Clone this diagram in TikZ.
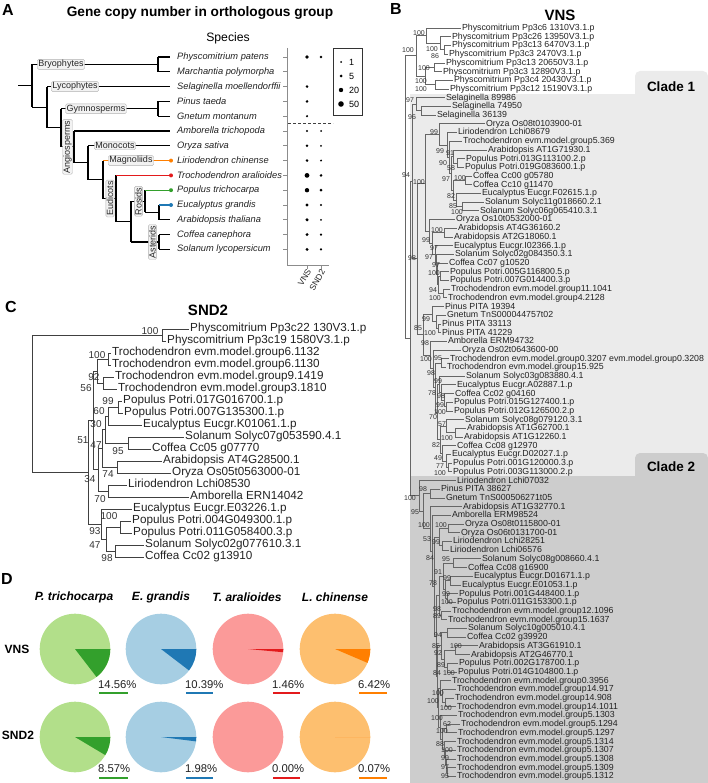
\documentclass[tikz,border=0pt]{standalone}
\usepackage{fontspec}
\setmainfont{Liberation Sans}
\usetikzlibrary{calc}
\newcommand{\myfs}[1]{\fontsize{#1}{#1}\selectfont}
\definecolor{pgL}{HTML}{B2DF8A}\definecolor{pgD}{HTML}{33A02C}
\definecolor{pbL}{HTML}{A6CEE3}\definecolor{pbD}{HTML}{1F78B4}
\definecolor{prL}{HTML}{FB9A99}\definecolor{prD}{HTML}{E31A1C}
\definecolor{poL}{HTML}{FDBF6F}\definecolor{poD}{HTML}{FF7F00}
\definecolor{cladeA}{HTML}{EBEBEB}\definecolor{cladeB}{HTML}{CDCDCD}
\definecolor{txt}{HTML}{222222}
\newcommand{\tjoin}[5]{\path let \p1=(#4), \p2=(#5) in (#3pt,{0.5*\y1+0.5*\y2}) coordinate (#2);\draw[#1] (#2) |- (#4);\draw[#1] (#2) |- (#5);}
\newcommand{\Bleaf}[3]{\node[blf] (b#1) at (#2,{28+(#1-1)*8.7}) {#3};}
\newcommand{\Cleaf}[3]{\node[clf] (c#1) at (#2,{329+(#1-1)*12}) {#3};}
\newcommand{\Blab}[3]{\node[bbs] (bl#1x#2) at (#1,#2) {#3};}
\newcommand{\Clab}[3]{\node[cbs] (cl#1x#2) at (#1,#2) {#3};}
\newcommand{\mypie}[6]{\fill[#4] (#2,#3) circle (35.3);\ifdim #6pt>0pt\fill[#5] (#2,#3) -- ++(0:35.3) arc[start angle=0,end angle=#6,radius=35.3] -- cycle;\fi\coordinate (#1) at (#2,#3);}
\begin{document}
\begin{tikzpicture}[x=1pt,y=-1pt,
 ta/.style={line width=1.2pt,black},
 albl/.style={draw=black!30,fill=black!5,rounded corners=1.5pt,inner xsep=1.2pt,inner ysep=0.8pt,font=\myfs{9},text=black!85},
 spec/.style={anchor=west,inner sep=0pt,font=\itshape\myfs{9.3},text=txt},
 dotp/.style={circle,fill=black,inner sep=0pt},
 axg/.style={draw=black!45,line width=0.9pt},
 blf/.style={anchor=west,inner xsep=0.8pt,inner ysep=0pt,text height=0.72em,text depth=0.2em,font=\myfs{8.8},text=txt},
 bbs/.style={font=\myfs{7},inner sep=0pt,text=black!80},
 brl/.style={draw=black!60,line width=0.5pt},
 clf/.style={anchor=west,inner xsep=1pt,inner ysep=0pt,text height=0.72em,text depth=0.2em,font=\myfs{11.7},text=txt},
 cbs/.style={font=\myfs{10},inner sep=0pt,text=black!80},
 crl/.style={draw=black!75,line width=0.6pt},
 plbl/.style={font=\bfseries\myfs{16}},
 ttl/.style={font=\bfseries\myfs{15}},
 pct/.style={anchor=west,inner sep=0pt,font=\myfs{11.3},text=txt}]
\useasboundingbox (0,0) rectangle (708,783);

% ================= Panel A =================
\node[plbl] (lblA) at (8,10) {A};
\node[font=\bfseries\myfs{13.7}] (titA) at (200,13) {Gene copy number in orthologous group};
\node[font=\myfs{12.2}] (spA) at (228,38) {Species};
\coordinate (t1) at (170,57);\coordinate (t2) at (170,71.8);\coordinate (t3) at (170,86.6);
\coordinate (t4) at (170,101.4);\coordinate (t5) at (170,116.2);\coordinate (t6) at (170,131);
\coordinate (t7) at (170,145.8);\coordinate (t8) at (170,160.6);\coordinate (t9) at (170,175.4);
\coordinate (t10) at (170,190.2);\coordinate (t11) at (170,205);\coordinate (t12) at (170,219.8);
\coordinate (t13) at (170,234.6);\coordinate (t14) at (170,249.4);
\coordinate (nBr) at (158,64.4);\coordinate (nGy) at (158,108.8);\coordinate (nAs) at (159,242);
\coordinate (nEA) at (159,212.4);\coordinate (nRo) at (145,201.3);\coordinate (nRA) at (131,221.65);
\coordinate (nEu) at (116,198.53);\coordinate (nME) at (103,179.56);\coordinate (nMM) at (88,162.68);
\coordinate (nAn) at (74,146.84);\coordinate (nSe) at (61,127.82);\coordinate (nTr) at (47,107.21);
\coordinate (nRt) at (32,85.8);\coordinate (nSt) at (18,85.8);
% verticals
\draw[ta] (nBr |- t1) -- (nBr |- t2);
\draw[ta] (nGy |- t4) -- (nGy |- t5);
\draw[ta] (nAs |- t13) -- (nAs |- t14);
\draw[ta] (nEA |- t11) -- (nEA |- t12);
\draw[ta] (nRo |- t10) -- (nRo |- nEA);
\draw[ta] (nRA |- nRo) -- (nRA |- nAs);
\draw[ta] (nEu |- t9) -- (nEu |- nRA);
\draw[ta] (nME |- t8) -- (nME |- nEu);
\draw[ta] (nMM |- t7) -- (nMM |- nME);
\draw[ta] (nAn |- t6) -- (nAn |- nMM);
\draw[ta] (nSe |- nGy) -- (nSe |- nAn);
\draw[ta] (nTr |- t3) -- (nTr |- nSe);
\draw[ta] (nRt |- nBr) -- (nRt |- nTr);
% horizontals
\draw[ta] (nSt) -- (nRt);
\draw[ta] (nRt |- nBr) -- (nBr);
\draw[ta] (nBr |- t1) -- (t1);\draw[ta] (nBr |- t2) -- (t2);
\draw[ta] (nRt |- nTr) -- (nTr);
\draw[ta] (nTr |- t3) -- (t3);
\draw[ta] (nTr |- nSe) -- (nSe);
\draw[ta] (nSe |- nGy) -- (nGy);
\draw[ta] (nGy |- t4) -- (t4);\draw[ta] (nGy |- t5) -- (t5);
\draw[ta] (nSe |- nAn) -- (nAn);
\draw[ta] (nAn |- t6) -- (t6);
\draw[ta] (nAn |- nMM) -- (nMM);
\draw[ta] (nMM |- t7) -- (t7);
\draw[ta] (nMM |- nME) -- (nME);
\draw[ta,poD] (nME |- t8) -- (t8);
\draw[ta] (nME |- nEu) -- (nEu);
\draw[ta,prD] (nEu |- t9) -- (t9);
\draw[ta] (nEu |- nRA) -- (nRA);
\draw[ta] (nRA |- nRo) -- (nRo);
\draw[ta,pgD] (nRo |- t10) -- (t10);
\draw[ta] (nRo |- nEA) -- (nEA);
\draw[ta,pbD] (nEA |- t11) -- (t11);
\draw[ta] (nEA |- t12) -- (t12);
\draw[ta] (nRA |- nAs) -- (nAs);
\draw[ta] (nAs |- t13) -- (t13);\draw[ta] (nAs |- t14) -- (t14);
% colored tips
\node[dotp,fill=poD,minimum size=4pt] (dt8) at (171,160.6) {};
\node[dotp,fill=prD,minimum size=4pt] (dt9) at (171,175.4) {};
\node[dotp,fill=pgD,minimum size=4pt] (dt10) at (171,190.2) {};
\node[dotp,fill=pbD,minimum size=4pt] (dt11) at (171,205) {};
% clade labels
\node[albl] (gBr) at (61,64.4) {Bryophytes};
\node[albl] (gLy) at (75,86.6) {Lycophytes};
\node[albl] (gGy) at (96,108.8) {Gymnosperms};
\node[albl,rotate=90] (gAn) at (67.5,146.84) {Angiosperms};
\node[albl] (gMo) at (115,145.8) {Monocots};
\node[albl] (gMa) at (131,160.6) {Magnoliids};
\node[albl,rotate=90] (gEu) at (110,198.53) {Eudicots};
\node[albl,rotate=90] (gRo) at (138.5,201.3) {Rosids};
\node[albl,rotate=90] (gAs) at (152.5,242) {Asterids};
% species
\node[spec] (s1) at (177,57) {Physcomitrium patens};
\node[spec] (s2) at (177,71.8) {Marchantia polymorpha};
\node[spec] (s3) at (177,86.6) {Selaginella moellendorffii};
\node[spec] (s4) at (177,101.4) {Pinus taeda};
\node[spec] (s5) at (177,116.2) {Gnetum montanum};
\node[spec] (s6) at (177,131) {Amborella trichopoda};
\node[spec] (s7) at (177,145.8) {Oryza sativa};
\node[spec] (s8) at (177,160.6) {Liriodendron chinense};
\node[spec] (s9) at (177,175.4) {Trochodendron aralioides};
\node[spec] (s10) at (177,190.2) {Populus trichocarpa};
\node[spec] (s11) at (177,205) {Eucalyptus grandis};
\node[spec] (s12) at (177,219.8) {Arabidopsis thaliana};
\node[spec] (s13) at (177,234.6) {Coffea canephora};
\node[spec] (s14) at (177,249.4) {Solanum lycopersicum};
% dot plot axes
\draw[axg] (287,48) -- (287,265) -- (329,265);
\foreach \yy in {57,71.8,86.6,101.4,116.2,131,145.8,160.6,175.4,190.2,205,219.8,234.6,249.4}{\draw[axg] (283,\yy) -- (287,\yy);}
\draw[axg] (307,265) -- (307,268.5);
\draw[axg] (321,265) -- (321,268.5);
\node[rotate=60,anchor=east,font=\myfs{8.5},inner sep=0pt,text=txt] (xV) at (309,270) {VNS};
\node[rotate=60,anchor=east,font=\myfs{8.5},inner sep=0pt,text=txt] (xS) at (323,270) {SND2};
\draw[black!75,line width=0.8pt,dash pattern=on 3pt off 2pt] (288,123.6) -- (333,123.6);
% dots VNS (x=307) and SND2 (x=321)
\node[dotp,minimum size=3.6pt] (v1) at (307,57) {};\node[dotp,minimum size=2.6pt] (w1) at (321,57) {};
\node[dotp,minimum size=2.8pt] (v3) at (307,86.6) {};
\node[dotp,minimum size=2.8pt] (v4) at (307,101.4) {};
\node[dotp,minimum size=2.4pt] (v5) at (307,116.2) {};
\node[dotp,minimum size=2.4pt] (v6) at (307,131) {};\node[dotp,minimum size=2pt] (w6) at (321,131) {};
\node[dotp,minimum size=2.8pt] (v7) at (307,145.8) {};\node[dotp,minimum size=2pt] (w7) at (321,145.8) {};
\node[dotp,minimum size=2.8pt] (v8) at (307,160.6) {};\node[dotp,minimum size=2.2pt] (w8) at (321,160.6) {};
\node[dotp,minimum size=4.8pt] (v9) at (307,175.4) {};\node[dotp,minimum size=2.8pt] (w9) at (321,175.4) {};
\node[dotp,minimum size=4.4pt] (v10) at (307,190.2) {};\node[dotp,minimum size=3pt] (w10) at (321,190.2) {};
\node[dotp,minimum size=3.2pt] (v11) at (307,205) {};\node[dotp,minimum size=2.4pt] (w11) at (321,205) {};
\node[dotp,minimum size=3.4pt] (v12) at (307,219.8) {};\node[dotp,minimum size=2pt] (w12) at (321,219.8) {};
\node[dotp,minimum size=3.2pt] (v13) at (307,234.6) {};\node[dotp,minimum size=2.4pt] (w13) at (321,234.6) {};
\node[dotp,minimum size=3.2pt] (v14) at (307,249.4) {};\node[dotp,minimum size=2.4pt] (w14) at (321,249.4) {};
% legend
\draw[black!80,line width=0.7pt,fill=white] (333,48) rectangle (362,115);
\node[dotp,minimum size=2pt] (lg1) at (341,62) {};\node[anchor=west,font=\myfs{9},inner sep=0pt] (lt1) at (349,62) {1};
\node[dotp,minimum size=3pt] (lg2) at (341,76) {};\node[anchor=west,font=\myfs{9},inner sep=0pt] (lt2) at (349,76) {5};
\node[dotp,minimum size=4.4pt] (lg3) at (341,90) {};\node[anchor=west,font=\myfs{9},inner sep=0pt] (lt3) at (349,90) {20};
\node[dotp,minimum size=5.6pt] (lg4) at (341,104) {};\node[anchor=west,font=\myfs{9},inner sep=0pt] (lt4) at (349,104) {50};

% ================= Panel B =================
\fill[cladeA] (410,94) rectangle (708,476);
\fill[cladeA,rounded corners=5pt] (635,100) -- (635,71) -- (708,71) -- (708,100) -- cycle;
\fill[cladeA] (635,85) rectangle (708,100);
\fill[cladeB] (410,476) rectangle (708,783);
\fill[cladeB,rounded corners=5pt] (635,482) -- (635,453) -- (708,453) -- (708,482) -- cycle;
\fill[cladeB] (635,470) rectangle (708,482);
\node[font=\bfseries\myfs{13.5}] (cl1) at (671,87) {Clade 1};
\node[font=\bfseries\myfs{13.5}] (cl2) at (671,467) {Clade 2};
\node[plbl] (lblB) at (396,9) {B};
\node[ttl] (titB) at (560,15) {VNS};
\Bleaf{1}{461}{Physcomitrium Pp3c6 1310V3.1.p}
\Bleaf{2}{451}{Physcomitrium Pp3c26 13950V3.1.p}
\Bleaf{3}{451}{Physcomitrium Pp3c13 6470V3.1.p}
\Bleaf{4}{448}{Physcomitrium Pp3c3 2470V3.1.p}
\Bleaf{5}{445}{Physcomitrium Pp3c13 20650V3.1.p}
\Bleaf{6}{442}{Physcomitrium Pp3c3 12890V3.1.p}
\Bleaf{7}{453}{Physcomitrium Pp3c4 20430V3.1.p}
\Bleaf{8}{449}{Physcomitrium Pp3c12 15190V3.1.p}
\Bleaf{9}{445}{Selaginella 89986}
\Bleaf{10}{451}{Selaginella 74950}
\Bleaf{11}{436}{Selaginella 36139}
\Bleaf{12}{485}{Oryza Os08t0103900-01}
\Bleaf{13}{457}{Liriodendron Lchi08679}
\Bleaf{14}{462}{Trochodendron evm.model.group5.369}
\Bleaf{15}{487}{Arabidopsis AT1G71930.1}
\Bleaf{16}{465}{Populus Potri.013G113100.2.p}
\Bleaf{17}{464}{Populus Potri.019G083600.1.p}
\Bleaf{18}{472}{Coffea Cc00 g05780}
\Bleaf{19}{472}{Coffea Cc10 g11470}
\Bleaf{20}{481}{Eucalyptus Eucgr.F02615.1.p}
\Bleaf{21}{484}{Solanum Solyc11g018660.2.1}
\Bleaf{22}{479}{Solanum Solyc06g065410.3.1}
\Bleaf{23}{455}{Oryza Os10t0532000-01}
\Bleaf{24}{457}{Arabidopsis AT4G36160.2}
\Bleaf{25}{453}{Arabidopsis AT2G18060.1}
\Bleaf{26}{453}{Eucalyptus Eucgr.I02366.1.p}
\Bleaf{27}{454}{Solanum Solyc02g084350.3.1}
\Bleaf{28}{448}{Coffea Cc07 g10520}
\Bleaf{29}{449}{Populus Potri.005G116800.5.p}
\Bleaf{30}{449}{Populus Potri.007G014400.3.p}
\Bleaf{31}{450}{Trochodendron evm.model.group11.1041}
\Bleaf{32}{447}{Trochodendron evm.model.group4.2128}
\Bleaf{33}{444}{Pinus PITA 19394}
\Bleaf{34}{446}{Gnetum TnS000044757t02}
\Bleaf{35}{441}{Pinus PITA 33113}
\Bleaf{36}{441}{Pinus PITA 41229}
\Bleaf{37}{447}{Amborella ERM94732}
\Bleaf{38}{461}{Oryza Os02t0643600-00}
\Bleaf{39}{449}{Trochodendron evm.model.group0.3207 evm.model.group0.3208}
\Bleaf{40}{446}{Trochodendron evm.model.group15.925}
\Bleaf{41}{465}{Solanum Solyc03g083880.4.1}
\Bleaf{42}{456}{Eucalyptus Eucgr.A02887.1.p}
\Bleaf{43}{454}{Coffea Cc02 g04160}
\Bleaf{44}{453}{Populus Potri.015G127400.1.p}
\Bleaf{45}{453}{Populus Potri.012G126500.2.p}
\Bleaf{46}{464}{Solanum Solyc08g079120.3.1}
\Bleaf{47}{466}{Arabidopsis AT1G62700.1}
\Bleaf{48}{463}{Arabidopsis AT1G12260.1}
\Bleaf{49}{456}{Coffea Cc08 g12970}
\Bleaf{50}{451}{Eucalyptus Eucgr.D02027.1.p}
\Bleaf{51}{452}{Populus Potri.001G120000.3.p}
\Bleaf{52}{452}{Populus Potri.003G113000.2.p}
\Bleaf{53}{456}{Liriodendron Lchi07032}
\Bleaf{54}{440}{Pinus PITA 38627}
\Bleaf{55}{445}{Gnetum TnS000506271t05}
\Bleaf{56}{462}{Arabidopsis AT1G32770.1}
\Bleaf{57}{451}{Amborella ERM98524}
\Bleaf{58}{464}{Oryza Os08t0115800-01}
\Bleaf{59}{460}{Oryza Os06t0131700-01}
\Bleaf{60}{452}{Liriodendron Lchi28251}
\Bleaf{61}{449}{Liriodendron Lchi06576}
\Bleaf{62}{481}{Solanum Solyc08g008660.4.1}
\Bleaf{63}{467}{Coffea Cc08 g16900}
\Bleaf{64}{473}{Eucalyptus Eucgr.D01671.1.p}
\Bleaf{65}{461}{Eucalyptus Eucgr.E01053.1.p}
\Bleaf{66}{458}{Populus Potri.001G448400.1.p}
\Bleaf{67}{456}{Populus Potri.011G153300.1.p}
\Bleaf{68}{451}{Trochodendron evm.model.group12.1096}
\Bleaf{69}{447}{Trochodendron evm.model.group15.1637}
\Bleaf{70}{467}{Solanum Solyc10g005010.4.1}
\Bleaf{71}{466}{Coffea Cc02 g39920}
\Bleaf{72}{478}{Arabidopsis AT3G61910.1}
\Bleaf{73}{470}{Arabidopsis AT2G46770.1}
\Bleaf{74}{458}{Populus Potri.002G178700.1.p}
\Bleaf{75}{457}{Populus Potri.014G104800.1.p}
\Bleaf{76}{451}{Trochodendron evm.model.group0.3956}
\Bleaf{77}{456}{Trochodendron evm.model.group14.917}
\Bleaf{78}{454}{Trochodendron evm.model.group14.908}
\Bleaf{79}{456}{Trochodendron evm.model.group14.1011}
\Bleaf{80}{457}{Trochodendron evm.model.group5.1303}
\Bleaf{81}{460}{Trochodendron evm.model.group5.1294}
\Bleaf{82}{457}{Trochodendron evm.model.group5.1297}
\Bleaf{83}{456}{Trochodendron evm.model.group5.1314}
\Bleaf{84}{456}{Trochodendron evm.model.group5.1307}
\Bleaf{85}{456}{Trochodendron evm.model.group5.1308}
\Bleaf{86}{456}{Trochodendron evm.model.group5.1309}
\Bleaf{87}{456}{Trochodendron evm.model.group5.1312}
% B internal nodes
\tjoin{brl}{Bp34}{444}{b3}{b4}
\tjoin{brl}{Bp234}{440}{b2}{Bp34}
\tjoin{brl}{Bp1}{426}{b1}{Bp234}
\tjoin{brl}{Bp56}{434}{b5}{b6}
\tjoin{brl}{Bp78}{435}{b7}{b8}
\tjoin{brl}{Bp58}{425}{Bp56}{Bp78}
\tjoin{brl}{BP}{416}{Bp1}{Bp58}
\tjoin{brl}{Bs2}{421}{b10}{b11}
\tjoin{brl}{Bs}{416}{b9}{Bs2}
\tjoin{brl}{Ba1}{457}{b16}{b17}
\tjoin{brl}{Ba2}{453}{b15}{Ba1}
\tjoin{brl}{Ba3}{465}{b18}{b19}
\tjoin{brl}{Ba4}{462}{b21}{b22}
\tjoin{brl}{Ba5}{456}{b20}{Ba4}
\tjoin{brl}{Ba6}{453}{Ba3}{Ba5}
\tjoin{brl}{Ba7}{451}{Ba2}{Ba6}
\tjoin{brl}{Ba8}{449}{b14}{Ba7}
\tjoin{brl}{Ba9}{447}{b13}{Ba8}
\tjoin{brl}{Ba10}{439}{b12}{Ba9}
\tjoin{brl}{Bb1}{444}{b24}{b25}
\tjoin{brl}{Bb2}{440}{b29}{b30}
\tjoin{brl}{Bb3}{443}{b31}{b32}
\tjoin{brl}{Bb4}{438}{Bb2}{Bb3}
\tjoin{brl}{Bb5}{437}{b28}{Bb4}
\tjoin{brl}{Bb6}{436}{b27}{Bb5}
\tjoin{brl}{Bb7}{435}{b26}{Bb6}
\tjoin{brl}{Bb8}{432}{Bb1}{Bb7}
\tjoin{brl}{Bb9}{429}{b23}{Bb8}
\tjoin{brl}{BA1}{425}{Ba10}{Bb9}
\tjoin{brl}{Bg1}{438}{b35}{b36}
\tjoin{brl}{Bg2}{436}{b34}{Bg1}
\tjoin{brl}{Bg3}{432}{b33}{Bg2}
\tjoin{brl}{Bc1}{446}{b44}{b45}
\tjoin{brl}{Bc2}{444}{b43}{Bc1}
\tjoin{brl}{Bc3}{441}{b42}{Bc2}
\tjoin{brl}{Bc4}{439}{b41}{Bc3}
\tjoin{brl}{Bd1}{455}{b47}{b48}
\tjoin{brl}{Bd2}{446}{b46}{Bd1}
\tjoin{brl}{Bd3}{448}{b51}{b52}
\tjoin{brl}{Bd4}{446}{b50}{Bd3}
\tjoin{brl}{Bd5}{442}{b49}{Bd4}
\tjoin{brl}{Bd6}{440}{Bd2}{Bd5}
\tjoin{brl}{Be1}{437}{Bc4}{Bd6}
\tjoin{brl}{Bt1}{441}{b39}{b40}
\tjoin{brl}{Be2}{435}{Bt1}{Be1}
\tjoin{brl}{Be3}{433}{b38}{Be2}
\tjoin{brl}{Be4}{430}{b37}{Be3}
\tjoin{brl}{BSb}{423}{Bg3}{Be4}
\tjoin{brl}{BSP}{417}{BA1}{BSb}
\tjoin{brl}{BC1}{412}{Bs}{BSP}
\tjoin{brl}{Bq1}{430}{b54}{b55}
\tjoin{brl}{Bq2}{448}{b58}{b59}
\tjoin{brl}{Bq3}{442}{b60}{b61}
\tjoin{brl}{Bq4}{439}{Bq2}{Bq3}
\tjoin{brl}{Br1}{453}{b62}{b63}
\tjoin{brl}{Br2}{450}{b64}{b65}
\tjoin{brl}{Br3}{447}{b66}{b67}
\tjoin{brl}{Br4}{445}{Br2}{Br3}
\tjoin{brl}{Br5}{443}{Br1}{Br4}
\tjoin{brl}{Br6}{441}{b68}{b69}
\tjoin{brl}{Br7}{439}{Br5}{Br6}
\tjoin{brl}{Bk1}{447}{b70}{b71}
\tjoin{brl}{Bk2}{455}{b72}{b73}
\tjoin{brl}{Bk3}{447}{b74}{b75}
\tjoin{brl}{Bk4}{444}{Bk2}{Bk3}
\tjoin{brl}{Bk5}{441}{Bk1}{Bk4}
\tjoin{brl}{Bm1}{445}{b78}{b79}
\tjoin{brl}{Bm2}{442}{b77}{Bm1}
\tjoin{brl}{Bm3}{440}{b76}{Bm2}
\tjoin{brl}{Bu1}{447}{b86}{b87}
\tjoin{brl}{Bu2}{446}{b85}{Bu1}
\tjoin{brl}{Bu3}{445}{b84}{Bu2}
\tjoin{brl}{Bu4}{444}{b83}{Bu3}
\tjoin{brl}{Bu5}{446}{b81}{b82}
\tjoin{brl}{Bu6}{442}{Bu5}{Bu4}
\tjoin{brl}{Bu7}{440}{b80}{Bu6}
\tjoin{brl}{Bv1}{438}{Bm3}{Bu7}
\tjoin{brl}{Bv2}{437}{Bk5}{Bv1}
\tjoin{brl}{Bv3}{436}{Br7}{Bv2}
\tjoin{brl}{Bv4}{434}{Bq4}{Bv3}
\tjoin{brl}{Bv5}{432}{b57}{Bv4}
\tjoin{brl}{Bv6}{430}{b56}{Bv5}
\tjoin{brl}{Bv7}{423}{Bq1}{Bv6}
\tjoin{brl}{BC2}{419}{b53}{Bv7}
\tjoin{brl}{BV}{410}{BC1}{BC2}
\tjoin{brl}{BR}{405}{BP}{BV}
% B bootstrap labels
\Blab{408}{50}{100}\Blab{419}{33}{100}\Blab{432}{49}{100}\Blab{435}{56}{86}
\Blab{424}{68}{100}\Blab{421}{81}{100}\Blab{421}{89}{100}
\Blab{410}{100}{97}\Blab{412}{117}{96}\Blab{406}{175}{94}\Blab{419}{182}{100}\Blab{412}{258}{98}
\Blab{434}{132}{99}\Blab{440}{151}{99}\Blab{450}{153}{91}\Blab{443}{163}{90}\Blab{451}{168}{58}
\Blab{446}{179}{97}\Blab{460}{178}{100}\Blab{451}{196}{82}\Blab{453}{206}{85}\Blab{457}{212}{100}
\Blab{437}{230}{100}\Blab{426}{240}{99}\Blab{434}{248}{97}\Blab{429}{257}{97}\Blab{436}{265}{97}
\Blab{434}{273}{100}\Blab{433}{290}{94}\Blab{435}{298}{100}
\Blab{426}{319}{99}\Blab{418}{328}{85}\Blab{430}{333}{100}\Blab{425}{343}{98}
\Blab{426}{359}{100}\Blab{438}{358}{95}\Blab{431}{373}{98}\Blab{438}{381}{99}
\Blab{432}{393}{78}\Blab{441}{396}{98}\Blab{440}{405}{99}\Blab{440}{412}{100}
\Blab{433}{417}{70}\Blab{442}{424}{57}\Blab{447}{438}{100}\Blab{436}{445}{82}
\Blab{438}{458}{49}\Blab{440}{466}{77}\Blab{440}{473}{100}
\Blab{410}{498}{100}\Blab{423}{489}{98}\Blab{415}{512}{95}\Blab{424}{525}{100}\Blab{441}{525}{100}
\Blab{427}{539}{53}\Blab{436}{542}{99}\Blab{430}{558}{84}\Blab{446}{559}{95}\Blab{438}{572}{91}
\Blab{447}{578}{99}\Blab{433}{583}{78}\Blab{446}{594}{99}\Blab{447}{602}{100}\Blab{437}{609}{98}
\Blab{437}{616}{89}\Blab{438}{635}{94}\Blab{436}{646}{85}\Blab{456}{646}{100}\Blab{438}{653}{92}
\Blab{441}{665}{89}\Blab{437}{673}{84}\Blab{449}{673}{100}\Blab{438}{693}{100}\Blab{433}{701}{100}
\Blab{446}{708}{100}\Blab{437}{718}{100}\Blab{447}{724}{62}\Blab{442}{731}{100}\Blab{440}{744}{88}
\Blab{447}{750}{100}\Blab{445}{758}{99}\Blab{445}{767}{97}\Blab{445}{776}{95}

% ================= Panel C =================
\node[plbl] (lblC) at (11,307) {C};
\node[ttl] (titC) at (208,310) {SND2};
\Cleaf{1}{189}{Physcomitrium Pp3c22 130V3.1.p}
\Cleaf{2}{166}{Physcomitrium Pp3c19 1580V3.1.p}
\Cleaf{3}{111}{Trochodendron evm.model.group6.1132}
\Cleaf{4}{111}{Trochodendron evm.model.group6.1130}
\Cleaf{5}{114}{Trochodendron evm.model.group9.1419}
\Cleaf{6}{117}{Trochodendron evm.model.group3.1810}
\Cleaf{7}{122}{Populus Potri.017G016700.1.p}
\Cleaf{8}{123}{Populus Potri.007G135300.1.p}
\Cleaf{9}{142}{Eucalyptus Eucgr.K01061.1.p}
\Cleaf{10}{184}{Solanum Solyc07g053590.4.1}
\Cleaf{11}{151}{Coffea Cc05 g07770}
\Cleaf{12}{162}{Arabidopsis AT4G28500.1}
\Cleaf{13}{171}{Oryza Os05t0563000-01}
\Cleaf{14}{127}{Liriodendron Lchi08530}
\Cleaf{15}{189}{Amborella ERN14042}
\Cleaf{16}{132}{Eucalyptus Eucgr.E03226.1.p}
\Cleaf{17}{131}{Populus Potri.004G049300.1.p}
\Cleaf{18}{132}{Populus Potri.011G058400.3.p}
\Cleaf{19}{144}{Solanum Solyc02g077610.3.1}
\Cleaf{20}{144}{Coffea Cc02 g13910}
\tjoin{crl}{cP}{162}{c1}{c2}
\tjoin{crl}{cT1}{108}{c3}{c4}
\tjoin{crl}{cT2}{103}{c5}{c6}
\tjoin{crl}{cTA}{97}{cT1}{cT2}
\tjoin{crl}{cPo}{118}{c7}{c8}
\tjoin{crl}{c60}{108}{cPo}{c9}
\tjoin{crl}{cSC}{128}{c10}{c11}
\tjoin{crl}{c30}{105}{c60}{cSC}
\tjoin{crl}{cAO}{117}{c12}{c13}
\tjoin{crl}{c47}{102}{c30}{cAO}
\tjoin{crl}{cLA}{108}{c14}{c15}
\tjoin{crl}{c51}{98}{c47}{cLA}
\tjoin{crl}{c56}{93}{cTA}{c51}
\tjoin{crl}{cP2}{120}{c17}{c18}
\tjoin{crl}{cSC2}{115}{c19}{c20}
\tjoin{crl}{c47b}{106}{cP2}{cSC2}
\tjoin{crl}{c93}{101}{c16}{c47b}
\tjoin{crl}{cAng}{88}{c56}{c93}
\tjoin{crl}{cR}{32}{cP}{cAng}
\Clab{150}{331}{100}\Clab{97}{355}{100}\Clab{94}{377}{92}\Clab{86}{388}{56}\Clab{108}{401}{99}
\Clab{99}{411}{60}\Clab{96}{424}{30}\Clab{83}{440}{51}\Clab{96}{445}{47}\Clab{118}{451}{95}
\Clab{90}{479}{34}\Clab{108}{474}{74}\Clab{100}{499}{70}\Clab{109}{516}{100}\Clab{95}{531}{93}
\Clab{95}{545}{47}\Clab{107}{558}{98}

% ================= Panel D =================
\node[plbl] (lblD) at (7,579) {D};
\node[font=\bfseries\itshape\myfs{12}] (hP) at (74,597) {P. trichocarpa};
\node[font=\bfseries\itshape\myfs{12}] (hE) at (161,597) {E. grandis};
\node[font=\bfseries\itshape\myfs{12}] (hT) at (247,597) {T. aralioides};
\node[font=\bfseries\itshape\myfs{12}] (hL) at (335,597) {L. chinense};
\node[font=\bfseries\myfs{12}] (rV) at (17,649) {VNS};
\node[font=\bfseries\myfs{12}] (rS) at (18,735) {SND2};
\mypie{pv1}{75}{649}{pgL}{pgD}{52.42}
\mypie{pv2}{161}{649}{pbL}{pbD}{37.4}
\mypie{pv3}{248}{649}{prL}{prD}{5.26}
\mypie{pv4}{335}{649}{poL}{poD}{23.11}
\mypie{ps1}{75}{737}{pgL}{pgD}{30.85}
\mypie{ps2}{161}{737}{pbL}{pbD}{7.13}
\mypie{ps3}{248}{737}{prL}{prD}{0}
\mypie{ps4}{335}{737}{poL}{poD}{0.25}
\node[pct] (qv1) at (98,685) {14.56\%};\draw[pgD,line width=1.4pt] (99,693) -- (128,693);
\node[pct] (qv2) at (185,685) {10.39\%};\draw[pbD,line width=1.4pt] (186,693) -- (213,693);
\node[pct] (qv3) at (272,685) {1.46\%};\draw[prD,line width=1.4pt] (273,693) -- (300,693);
\node[pct] (qv4) at (358,685) {6.42\%};\draw[poD,line width=1.4pt] (359,693) -- (387,693);
\node[pct] (qs1) at (98,769) {8.57\%};\draw[pgD,line width=1.4pt] (99,778) -- (128,778);
\node[pct] (qs2) at (185,769) {1.98\%};\draw[pbD,line width=1.4pt] (186,778) -- (213,778);
\node[pct] (qs3) at (272,769) {0.00\%};\draw[prD,line width=1.4pt] (273,778) -- (300,778);
\node[pct] (qs4) at (358,769) {0.07\%};\draw[poD,line width=1.4pt] (359,778) -- (387,778);
\end{tikzpicture}
\end{document}
